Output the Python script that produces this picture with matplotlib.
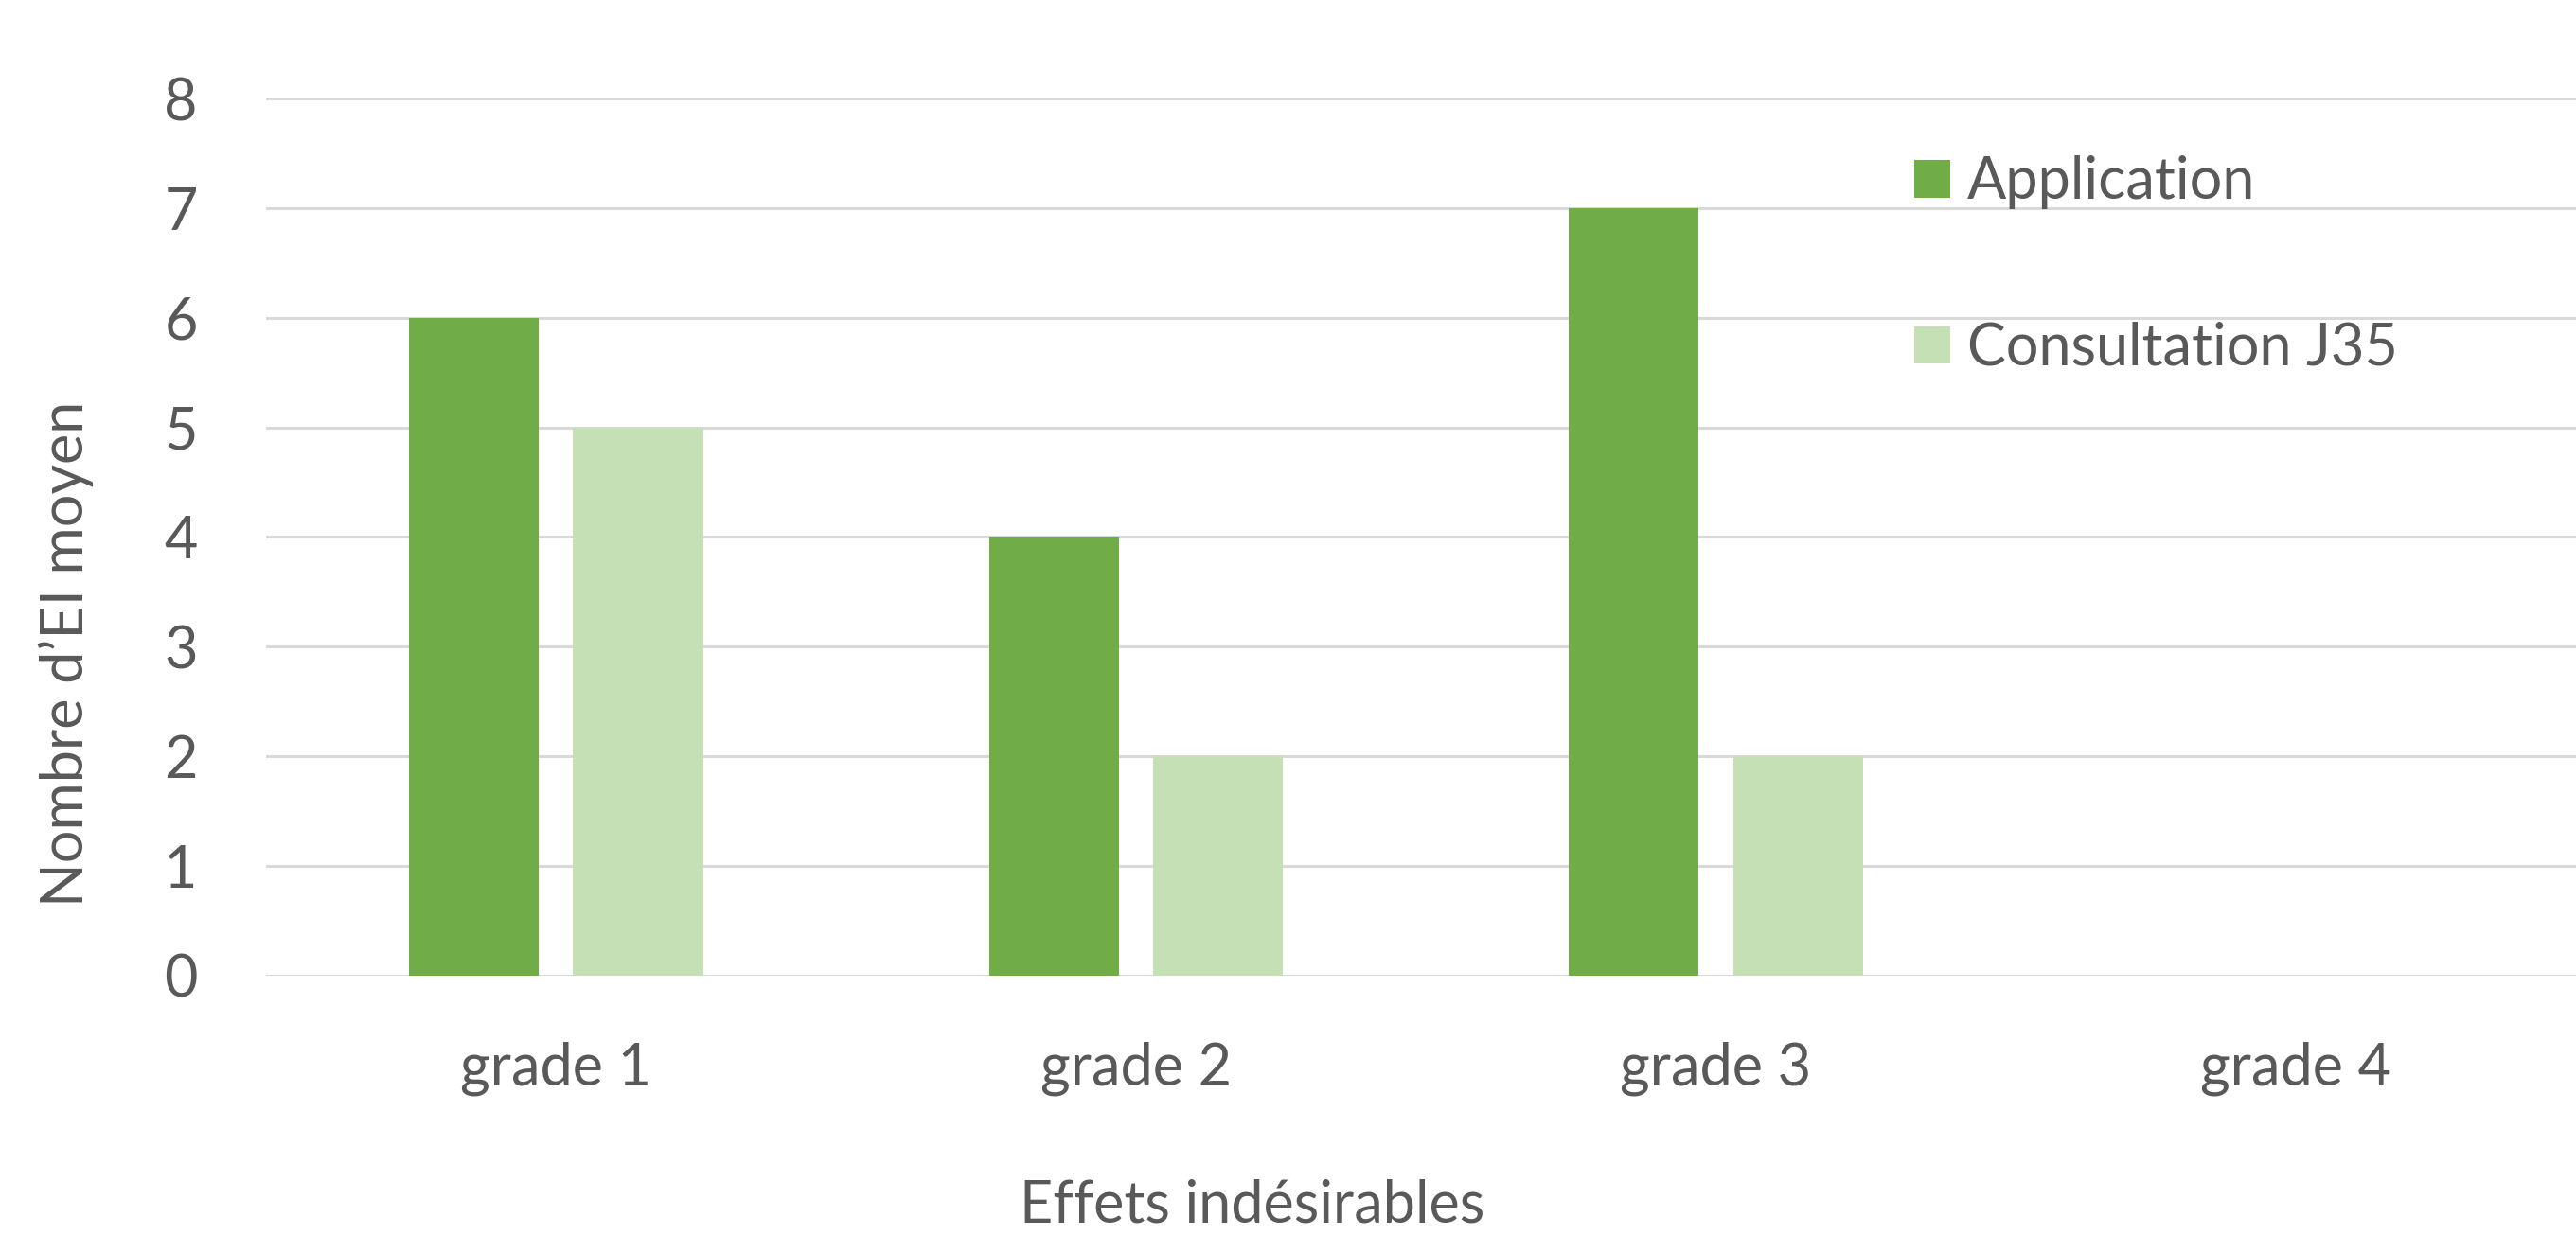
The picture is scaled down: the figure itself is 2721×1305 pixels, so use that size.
import matplotlib
matplotlib.use("Agg")
import matplotlib.pyplot as plt
import numpy as np

# Data
categories = ["grade 1", "grade 2", "grade 3", "grade 4"]
application = [6, 4, 7, 0]
consultation_j35 = [5, 2, 2, 0]
series_names = ["Application", "Consultation J35"]
y_ticks = [0, 1, 2, 3, 4, 5, 6, 7, 8]

GREEN = "#70AD47"
LIGHT_GREEN = "#C5E0B4"
TEXT = "#595959"
GRID = "#D9D9D9"

plt.rcParams["font.family"] = ["Lato", "DejaVu Sans"]
FS = 44

fig = plt.figure(figsize=(27.21, 13.05), dpi=100)
ax = fig.add_axes([0.1033, 0.2101, 0.9005, 0.7101])

x = np.arange(len(categories))
width = 0.224
offset = 0.1416
ax.bar(x - offset, application, width, color=GREEN, label=series_names[0], zorder=3)
ax.bar(x + offset, consultation_j35, width, color=LIGHT_GREEN, label=series_names[1], zorder=3)

ax.set_xlim(-0.5, len(categories) - 0.5)
ax.set_ylim(0, 8)
ax.set_yticks(y_ticks)
ax.set_xticks(x)
ax.set_xticklabels(categories)
ax.yaxis.grid(True, color=GRID, linewidth=2.2, zorder=0)
ax.set_axisbelow(True)
for s in ax.spines.values():
    s.set_visible(False)
ax.tick_params(axis="both", length=0, labelsize=FS, labelcolor=TEXT)
ax.tick_params(axis="y", pad=52)
ax.tick_params(axis="x", pad=50)

fig.text(0.486, 0.024, "Effets indésirables", fontsize=FS, color=TEXT,
         ha="center", va="center")
fig.text(0.0255, 0.4707, "Nombre d\u2019EI moyen", fontsize=FS, color=TEXT,
         ha="center", va="center", rotation=90)

leg = ax.legend(loc="upper left", bbox_to_anchor=(0.743, 0.874),
                bbox_transform=fig.transFigure, frameon=False,
                fontsize=FS, handlelength=0.62, handleheight=0.62,
                handletextpad=0.3, labelspacing=1.94, borderpad=0,
                borderaxespad=0)
for t in leg.get_texts():
    t.set_color(TEXT)

fig.savefig("out.png", dpi=100, facecolor="white")
